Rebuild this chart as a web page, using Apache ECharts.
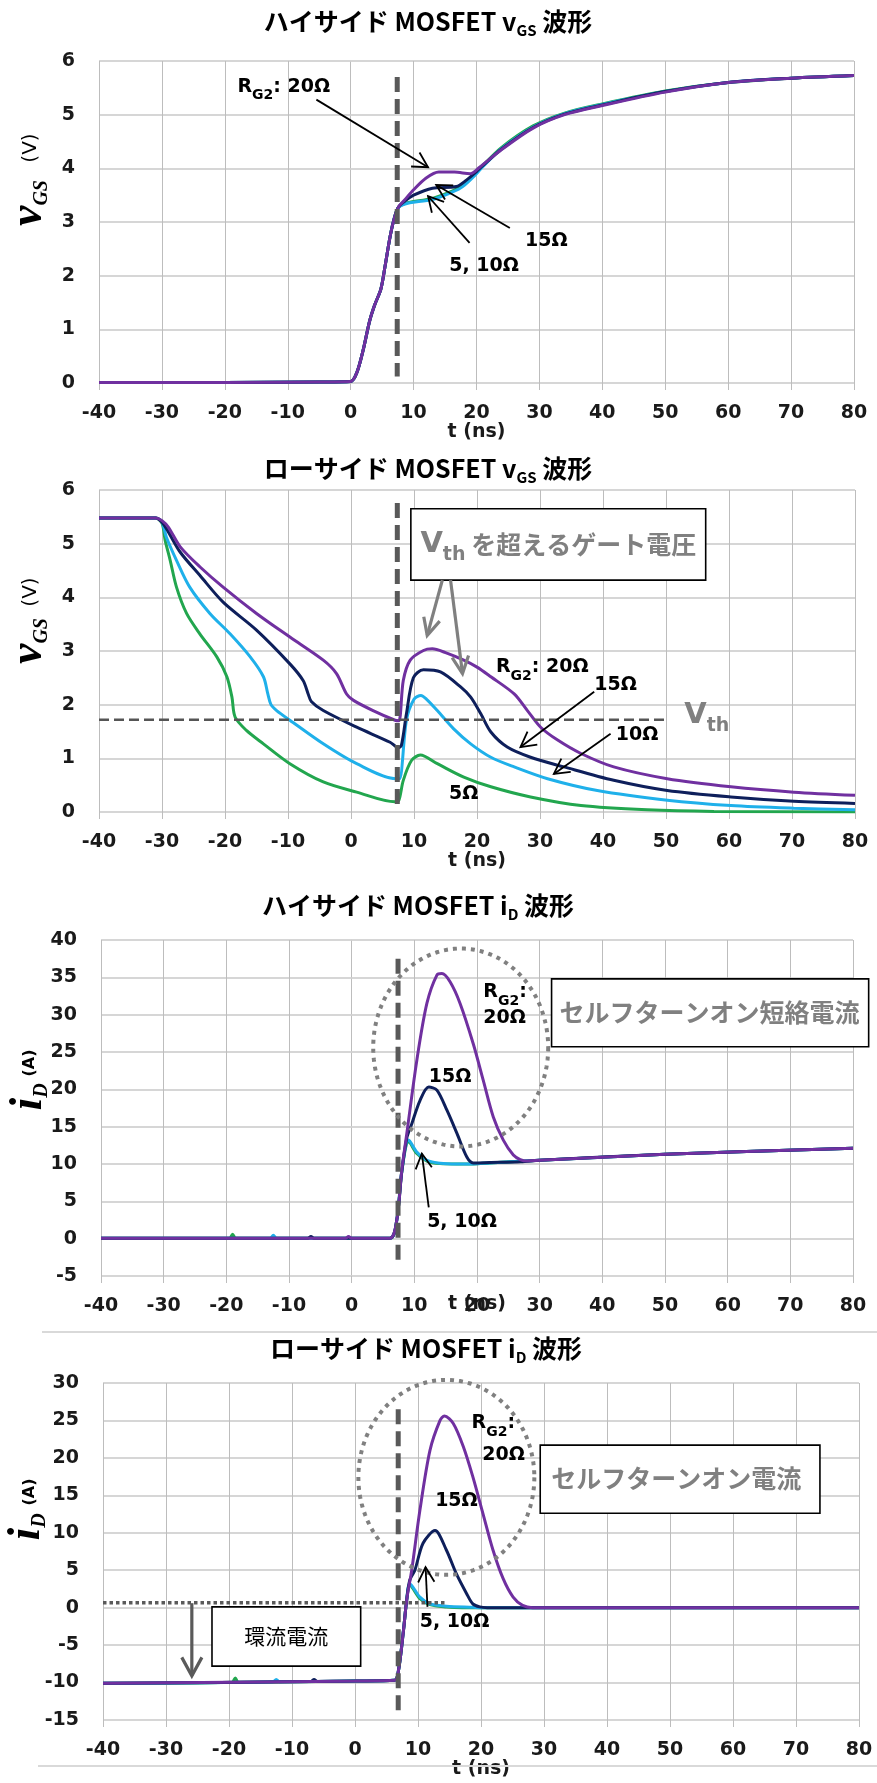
<!DOCTYPE html>
<html>
<head>
<meta charset="utf-8">
<script src="https://cdn.jsdelivr.net/npm/echarts@6/dist/echarts.min.js"></script>
<style>
  html, body { margin: 0; padding: 0; background: #fff; }
  #chart { width: 877px; height: 1783px; }
</style>
</head>
<body>
<div id="chart"></div>
<script>
// ---- axis ticks ----
const timeTicks = [-40, -30, -20, -10, 0, 10, 20, 30, 40, 50, 60, 70, 80];
const vgsTicks = [0, 1, 2, 3, 4, 5, 6];
const hsIdTicks = [-5, 0, 5, 10, 15, 20, 25, 30, 35, 40];
const lsIdTicks = [-15, -10, -5, 0, 5, 10, 15, 20, 25, 30];

// ---- gate resistance cases (drawing order: 5, 10, 15, 20 ohm) ----
const gateResistors = ['5Ω', '10Ω', '15Ω', '20Ω'];
const caseColors = ['#22a64e', '#1fb0ea', '#0e1f5b', '#7030a0'];

// ---- high-side MOSFET vGS (V) vs t (ns) ----
const hsVgs5 = [[-40,0.01],[-20,0.01],[-5,0.02],[0,0.03],[1,0.2],[2,0.62],[3,1.15],[3.8,1.45],[4.8,1.75],[5.5,2.2],[6.3,2.75],[7,3.1],[7.6,3.27],[8.5,3.34],[9.4,3.37],[13,3.44],[16.2,3.58],[17.8,3.68],[20,3.92],[21,4.05],[24,4.39],[29,4.79],[34,5.03],[40,5.2],[50,5.44],[60,5.6],[70,5.68],[80,5.73]];
const hsVgs10 = [[-40,0.01],[-20,0.01],[-5,0.02],[0,0.03],[1,0.2],[2,0.62],[3,1.15],[3.8,1.45],[4.8,1.75],[5.5,2.2],[6.3,2.75],[7,3.1],[7.6,3.27],[8.5,3.33],[9.4,3.36],[13,3.42],[16.2,3.56],[17.8,3.66],[20,3.9],[21,4.03],[24,4.37],[29,4.77],[34,5.02],[40,5.19],[50,5.43],[60,5.6],[70,5.68],[80,5.73]];
const hsVgs15 = [[-40,0.01],[-20,0.01],[-5,0.02],[0,0.03],[1,0.2],[2,0.62],[3,1.15],[3.8,1.45],[4.8,1.75],[5.5,2.2],[6.3,2.75],[7,3.1],[7.6,3.28],[8.5,3.38],[10,3.5],[13,3.63],[16.8,3.66],[18.4,3.78],[20,3.94],[21,4.05],[24,4.36],[29,4.76],[34,5.01],[40,5.18],[50,5.43],[60,5.6],[70,5.68],[80,5.73]];
const hsVgs20 = [[-40,0.01],[-20,0.01],[-5,0.02],[0,0.03],[1,0.2],[2,0.62],[3,1.15],[3.8,1.45],[4.8,1.75],[5.5,2.2],[6.3,2.75],[7,3.1],[7.6,3.28],[8.5,3.4],[10,3.6],[12,3.82],[14,3.93],[16.5,3.93],[19,3.9],[20.5,4.02],[24,4.35],[29,4.75],[34,5.0],[40,5.17],[50,5.42],[60,5.6],[70,5.68],[80,5.73]];

// ---- low-side MOSFET vGS (V) ----
const lsVgs5 = [[-40,5.48],[-31,5.48],[-30,5.38],[-29.5,5.06],[-28.7,4.69],[-27.7,4.19],[-26.1,3.7],[-24,3.32],[-21.3,2.89],[-19.7,2.52],[-18.9,2.14],[-18.4,1.77],[-16.6,1.52],[-13.9,1.27],[-9.7,0.9],[-4.4,0.56],[0.9,0.37],[7,0.19],[7.6,0.22],[8.3,0.59],[9.6,0.96],[11,1.06],[13.7,0.9],[17.9,0.65],[22.2,0.47],[28.5,0.28],[36.5,0.12],[47,0.04],[57.6,0.01],[80,0]];
const lsVgs10 = [[-40,5.48],[-31,5.48],[-30,5.4],[-29.3,5.12],[-27.7,4.69],[-25.6,4.19],[-22.4,3.7],[-19.2,3.32],[-16,2.89],[-13.9,2.52],[-13.2,2.2],[-12.7,2.0],[-11.8,1.89],[-9.7,1.71],[-4.4,1.27],[0.9,0.9],[7.2,0.62],[7.7,0.62],[8.8,1.71],[10,2.1],[11.1,2.17],[12,2.1],[13.7,1.89],[16.3,1.55],[19,1.27],[22.2,1.02],[25.9,0.84],[31.2,0.62],[39.1,0.4],[50.2,0.22],[60.3,0.12],[70.3,0.07],[80,0.04]];
const lsVgs15 = [[-40,5.48],[-31,5.48],[-30,5.4],[-29,5.22],[-27.1,4.84],[-24,4.41],[-20.3,3.91],[-15,3.39],[-9.7,2.76],[-7.6,2.45],[-6.8,2.2],[-6.3,2.06],[-4.4,1.89],[0.9,1.58],[6.2,1.3],[7.5,1.2],[8,1.24],[8.8,1.83],[9.9,2.5],[11.5,2.65],[14.2,2.61],[17.4,2.33],[19,2.14],[20.6,1.83],[22.2,1.49],[24.8,1.21],[28.5,1.02],[33.8,0.84],[41.7,0.59],[50.2,0.4],[60.3,0.28],[70.3,0.2],[80,0.16]];
const lsVgs20 = [[-40,5.48],[-31,5.48],[-30,5.43],[-29,5.31],[-27.1,4.94],[-24,4.57],[-20.3,4.19],[-15,3.7],[-9.7,3.26],[-4.4,2.83],[-2.3,2.58],[-0.7,2.2],[0.4,2.08],[3.5,1.89],[7,1.71],[7.6,1.7],[8.3,2.45],[9.4,2.83],[11.5,3.01],[12.9,3.04],[15,2.97],[17.9,2.83],[20,2.7],[22.2,2.52],[25.9,2.2],[28,1.89],[30.1,1.58],[32.8,1.34],[36.5,1.09],[41.7,0.84],[50.2,0.62],[60.3,0.47],[70.3,0.37],[80,0.31]];
const thresholdVoltage = 1.72;

// ---- high-side MOSFET iD (A) ----
const hsId5 = [[-40,0.05],[-19.5,0.05],[-19,0.6],[-18.5,0.05],[6.1,0.05],[7.2,2.5],[8,9],[9.1,13],[10.4,11.4],[12,10.4],[14.1,10.05],[16.8,10],[19.4,10],[22,10.15],[30,10.5],[50,11.3],[80,12.1]];
const hsId10 = [[-40,0.05],[-13,0.05],[-12.5,0.45],[-12,0.05],[6.1,0.05],[7.2,2.5],[8,9],[9.1,13.2],[10.4,11.6],[12,10.5],[14.1,10.1],[16.8,10],[19.4,10],[22,10.15],[30,10.5],[50,11.3],[80,12.1]];
const hsId15 = [[-40,0.05],[-7,0.05],[-6.5,0.3],[-6,0.05],[6.1,0.05],[7.2,2.5],[8,9],[8.8,13.5],[9.6,15.4],[10.9,18.5],[12.3,20.3],[13.6,19.9],[15.2,17.2],[16.8,14.1],[18.4,10.9],[19.4,10.15],[22,10.2],[27,10.3],[30,10.5],[50,11.3],[80,12.1]];
const hsId20 = [[-40,0.05],[-1,0.05],[-0.5,0.3],[0,0.05],[6.1,0.05],[7.2,2.5],[8,9.2],[8.8,14.1],[10.4,23.9],[12,31.5],[13.6,35.3],[14.4,35.5],[15.7,34.4],[17.3,31.5],[19.4,26.1],[21,21.2],[22.6,16.3],[24.2,13.2],[25.8,11.2],[26.9,10.6],[28,10.4],[30,10.5],[50,11.3],[80,12.1]];

// ---- low-side MOSFET iD (A) ----
const lsId5 = [[-40,-10.1],[-19.5,-9.95],[-19,-9.4],[-18.5,-9.95],[0,-9.8],[6.3,-9.7],[6.9,-8.4],[7.7,-3],[8.2,1],[8.7,3.0],[10.3,1.2],[11.9,0.4],[14.5,0.1],[17,0],[80,0]];
const lsId10 = [[-40,-10.1],[-13,-9.9],[-12.5,-9.6],[-12,-9.9],[0,-9.8],[6.3,-9.7],[6.9,-8.4],[7.7,-3],[8.2,1],[8.7,3.2],[10.3,1.4],[11.9,0.5],[14.5,0.2],[18.7,0.05],[20,0],[80,0]];
const lsId15 = [[-40,-10.1],[-7,-9.85],[-6.5,-9.6],[-6,-9.85],[0,-9.8],[6.3,-9.7],[6.9,-8.4],[7.7,-3],[8.2,1],[8.7,3.7],[9.5,5],[10.8,8.6],[12.7,10.3],[14.5,7.7],[16.1,4.5],[17.7,1.9],[18.7,0.5],[19.8,0.1],[21,0],[80,0]];
const lsId20 = [[-40,-10.1],[-20,-9.95],[0,-9.8],[6.3,-9.7],[6.9,-8.4],[7.7,-3],[8.2,1],[9,5],[10.3,13],[11.9,21],[13.5,25],[14.2,25.6],[15.6,24.6],[17.2,21.5],[18.7,17.5],[20.3,12.6],[21.9,7.7],[23.5,3.9],[25.1,1.4],[26.6,0.3],[28.2,0],[80,0]];
const freewheelRef = 0.67;

// ---- switching instant markers (ns) and their vertical extents ----
const switchTimes = [7.4, 7.35, 7.4, 6.86];
const switchSpans = [[0.12, 5.7], [0.12, 5.76], [-2.9, 37.5], [-13.9, 26.5]];

const panelTitles = [
  ['ハイサイド MOSFET v', 'GS', ' 波形'],
  ['ローサイド MOSFET v', 'GS', ' 波形'],
  ['ハイサイド MOSFET i', 'D', ' 波形'],
  ['ローサイド MOSFET i', 'D', ' 波形']
];

const FONT_NUM = '"DejaVu Sans", Verdana, sans-serif';
const FONT_JP = '"Noto Sans CJK JP", "Noto Sans", sans-serif';
const FONT_SERIF = '"Liberation Serif", "DejaVu Serif", serif';

const panelData = [
  { curves: [hsVgs5, hsVgs10, hsVgs15, hsVgs20], ticks: vgsTicks, nameGap: 40 },
  { curves: [lsVgs5, lsVgs10, lsVgs15, lsVgs20], ticks: vgsTicks, nameGap: 40 },
  { curves: [hsId5, hsId10, hsId15, hsId20], ticks: hsIdTicks, nameGap: 19 },
  { curves: [lsId5, lsId10, lsId15, lsId20], ticks: lsIdTicks, nameGap: 40 }
];

const gridBoxes = [
  { left: 99, top: 61, width: 755, height: 322 },
  { left: 99, top: 490, width: 756, height: 322 },
  { left: 101, top: 940, width: 752, height: 336 },
  { left: 103, top: 1383, width: 756, height: 337 }
];

const chart = echarts.init(document.getElementById('chart'), null, { renderer: 'canvas', width: 877, height: 1783 });

const xAxes = [], yAxes = [], series = [];
panelData.forEach((p, i) => {
  xAxes.push({
    type: 'value', gridIndex: i,
    min: timeTicks[0], max: timeTicks[timeTicks.length - 1], interval: timeTicks[1] - timeTicks[0],
    axisLine: { show: false, onZero: false },
    axisTick: { show: true, length: 7, lineStyle: { color: '#bdbdbd', width: 1 } },
    axisLabel: { margin: 21, fontFamily: FONT_NUM, fontWeight: 'bold', fontSize: 19, color: '#1a1a1a' },
    splitLine: { show: true, lineStyle: { color: '#bdbdbd', width: 1 } },
    name: 't (ns)', nameLocation: 'middle', nameGap: p.nameGap, nameMoveOverlap: false,
    nameTextStyle: { fontFamily: FONT_NUM, fontWeight: 'bold', fontSize: 19, color: '#1a1a1a' }
  });
  yAxes.push({
    type: 'value', gridIndex: i,
    min: p.ticks[0], max: p.ticks[p.ticks.length - 1], interval: p.ticks[1] - p.ticks[0],
    axisLine: { show: false },
    axisTick: { show: true, length: 8, lineStyle: { color: '#d6d6d6', width: 2 } },
    axisLabel: { margin: 24, fontFamily: FONT_NUM, fontWeight: 'bold', fontSize: 19, color: '#1a1a1a' },
    splitLine: { show: true, lineStyle: { color: '#d6d6d6', width: 2 } }
  });
  p.curves.forEach((data, k) => {
    series.push({
      type: 'line', name: gateResistors[k], xAxisIndex: i, yAxisIndex: i, data,
      symbol: 'none', smooth: 0.3, silent: true, z: 2 + k * 0.1,
      lineStyle: { color: caseColors[k], width: 3 }
    });
  });
  // switching instant
  series.push({
    type: 'line', xAxisIndex: i, yAxisIndex: i, symbol: 'none', silent: true, z: 4,
    data: [[switchTimes[i], switchSpans[i][1]], [switchTimes[i], switchSpans[i][0]]],
    lineStyle: { color: '#595959', width: 5, type: [15, 7], cap: 'butt' }
  });
});

// threshold voltage of the low-side device
series.push({
  type: 'line', xAxisIndex: 1, yAxisIndex: 1, symbol: 'none', silent: true, z: 5,
  data: [[-40, thresholdVoltage], [50, thresholdVoltage]],
  lineStyle: { color: '#555555', width: 2.5, type: [10, 5] }
});
// freewheeling reference level of the low-side current
series.push({
  type: 'line', xAxisIndex: 3, yAxisIndex: 3, symbol: 'none', silent: true, z: 5,
  data: [[-40, freewheelRef], [14.5, freewheelRef]],
  lineStyle: { color: '#5a5a5a', width: 3.5, type: [3.5, 3], cap: 'butt' }
});

chart.setOption({
  animation: false,
  backgroundColor: '#ffffff',
  grid: gridBoxes.map(g => Object.assign({ containLabel: false }, g)),
  xAxis: xAxes,
  yAxis: yAxes,
  series
});

// ---- annotations placed through the axis scales ----
const P = (i, x, y) => chart.convertToPixel({ gridIndex: i }, [x, y]);

function arrow(a, b, color, w, head, spread) {
  const ang = Math.atan2(b[1] - a[1], b[0] - a[0]);
  const h1 = [b[0] - head * Math.cos(ang - spread), b[1] - head * Math.sin(ang - spread)];
  const h2 = [b[0] - head * Math.cos(ang + spread), b[1] - head * Math.sin(ang + spread)];
  return [
    { type: 'line', z: 100, shape: { x1: a[0], y1: a[1], x2: b[0], y2: b[1] }, style: { stroke: color, lineWidth: w } },
    { type: 'polyline', z: 100, shape: { points: [h1, b, h2] }, style: { stroke: color, lineWidth: w, fill: null } }
  ];
}
const blackArrow = (a, b) => arrow(a, b, '#000', 1.8, 17, 0.5);
const grayArrow = (a, b) => arrow(a, b, '#808080', 3.2, 19, 0.45);

function dottedEllipse(c, rx, ry) {
  const pts = [];
  for (let k = 0; k <= 160; k++) {
    const a = k / 160 * Math.PI * 2;
    pts.push([c[0] + rx * Math.cos(a), c[1] + ry * Math.sin(a)]);
  }
  return { type: 'polyline', z: 95, shape: { points: pts }, style: { stroke: '#808080', lineWidth: 4, lineDash: [4, 5], fill: null } };
}

function box(p0, p1) {
  return {
    type: 'rect', z: 96,
    shape: { x: Math.min(p0[0], p1[0]), y: Math.min(p0[1], p1[1]), width: Math.abs(p1[0] - p0[0]), height: Math.abs(p1[1] - p0[1]) },
    style: { fill: '#ffffff', stroke: '#000000', lineWidth: 1.6 }
  };
}

const RICH_LABEL = {
  b: { fontFamily: FONT_NUM, fontWeight: 'bold', fontSize: 19, fill: '#000', lineHeight: 32 },
  s: { fontFamily: FONT_NUM, fontWeight: 'bold', fontSize: 14, fill: '#000', lineHeight: 14, verticalAlign: 'bottom' }
};
function label(pos, text, align) {
  return { type: 'text', z: 110, x: pos[0], y: pos[1], style: { text, rich: RICH_LABEL, align: align || 'center', verticalAlign: 'middle' } };
}

const RICH_GRAYBOX = {
  v: { fontFamily: FONT_NUM, fontWeight: 'bold', fontSize: 29, fill: '#808080', lineHeight: 40 },
  s: { fontFamily: FONT_NUM, fontWeight: 'bold', fontSize: 19, fill: '#808080', lineHeight: 19, verticalAlign: 'bottom' },
  j: { fontFamily: FONT_JP, fontWeight: 'bold', fontSize: 25, fill: '#808080', lineHeight: 40 }
};
function grayText(pos, text, align) {
  return { type: 'text', z: 110, x: pos[0], y: pos[1], style: { text, rich: RICH_GRAYBOX, align: align || 'center', verticalAlign: 'middle' } };
}

const RICH_TITLE = {
  t: { fontFamily: FONT_JP, fontWeight: 'bold', fontSize: 25, fill: '#000', lineHeight: 33 },
  s: { fontFamily: FONT_JP, fontWeight: 'bold', fontSize: 15, fill: '#000', lineHeight: 15, verticalAlign: 'bottom' }
};
const RICH_YSYM = {
  v: { fontFamily: FONT_SERIF, fontStyle: 'italic', fontWeight: 'bold', fontSize: 46, fill: '#000', lineHeight: 46 },
  s: { fontFamily: FONT_SERIF, fontStyle: 'italic', fontWeight: 'bold', fontSize: 20, fill: '#000', lineHeight: 20, verticalAlign: 'bottom' }
};

const titleCenters = [[428, 21], [428, 468], [418, 905], [426, 1348]];
// axis quantity symbol and unit, each drawn rotated beside the value axis
const yNames = [
  { sym: '{v|v}{s|GS}', symPos: [29, 203], unit: '(V)', unitPos: [31, 148], unitWeight: 'normal', unitSize: 20 },
  { sym: '{v|v}{s|GS}', symPos: [29, 641], unit: '(V)', unitPos: [31, 592], unitWeight: 'normal', unitSize: 20 },
  { sym: '{v|i}{s|D}', symPos: [29, 1097], unit: '(A)', unitPos: [30, 1063], unitWeight: 'bold', unitSize: 16 },
  { sym: '{v|i}{s|D}', symPos: [27, 1527], unit: '(A)', unitPos: [30, 1492], unitWeight: 'bold', unitSize: 16 }
];

const g = [];

// titles and axis names
panelTitles.forEach((t, i) => {
  g.push({ type: 'text', z: 110, x: titleCenters[i][0], y: titleCenters[i][1],
    style: { text: '{t|' + t[0] + '}{s|' + t[1] + '}{t|' + t[2] + '}', rich: RICH_TITLE, align: 'center', verticalAlign: 'middle' } });
  const yn = yNames[i];
  g.push({ type: 'text', z: 110, x: yn.symPos[0], y: yn.symPos[1], rotation: Math.PI / 2,
    style: { text: yn.sym, rich: RICH_YSYM, align: 'center', verticalAlign: 'middle' } });
  g.push({ type: 'text', z: 110, x: yn.unitPos[0], y: yn.unitPos[1], rotation: Math.PI / 2,
    style: { text: yn.unit, fontFamily: FONT_NUM, fontWeight: yn.unitWeight, fontSize: yn.unitSize, fill: '#000', align: 'center', verticalAlign: 'middle' } });
});

// separators above and below the last panel
g.push({ type: 'line', z: 1, shape: { x1: 42, y1: 1332, x2: 877, y2: 1332 }, style: { stroke: '#d9d9d9', lineWidth: 2 } });
g.push({ type: 'line', z: 1, shape: { x1: 38, y1: 1766, x2: 877, y2: 1766 }, style: { stroke: '#d9d9d9', lineWidth: 2 } });

// panel 1: high-side vGS
g.push(label(P(0, -18, 5.52), '{b|R}{s|G2}{b|: 20Ω}', 'left'));
g.push(...blackArrow(P(0, -5.45, 5.28), P(0, 12.3, 4.02)));
g.push(label(P(0, 31.1, 2.64), '{b|15Ω}'));
g.push(...blackArrow(P(0, 25.3, 2.89), P(0, 13.6, 3.69)));
g.push(label(P(0, 21.2, 2.17), '{b|5, 10Ω}'));
g.push(...blackArrow(P(0, 18.9, 2.61), P(0, 12.3, 3.48)));

// panel 2: low-side vGS
g.push(box(P(1, 9.5, 5.65), P(1, 56.3, 4.32)));
g.push(grayText(P(1, 32.9, 4.98), '{v|V}{s|th}{j| を超えるゲート電圧}'));
g.push(...grayArrow(P(1, 14.5, 4.32), P(1, 12.1, 3.29)));
g.push(...grayArrow(P(1, 15.8, 4.32), P(1, 17.7, 2.58)));
g.push(label(P(1, 23, 2.7), '{b|R}{s|G2}{b|: 20Ω}', 'left'));
g.push(label(P(1, 42, 2.36), '{b|15Ω}'));
g.push(...blackArrow(P(1, 38.6, 2.24), P(1, 26.9, 1.21)));
g.push(label(P(1, 45.4, 1.43), '{b|10Ω}'));
g.push(...blackArrow(P(1, 41.2, 1.46), P(1, 32.2, 0.71)));
g.push(label(P(1, 17.9, 0.34), '{b|5Ω}'));
g.push(grayText(P(1, 52.9, 1.8), '{v|V}{s|th}', 'left'));

// panel 3: high-side iD
g.push(dottedEllipse(P(2, 17.4, 25.6), 87.5, 99));
g.push(box(P(2, 31.9, 34.8), P(2, 82.5, 25.7)));
g.push(grayText(P(2, 57.1, 30.3), '{j|セルフターンオン短絡電流}'));
g.push(label(P(2, 21, 33.0), '{b|R}{s|G2}{b|:}', 'left'));
g.push(label(P(2, 21, 29.5), '{b|20Ω}', 'left'));
g.push(label(P(2, 15.7, 21.7), '{b|15Ω}'));
g.push(label(P(2, 17.6, 2.2), '{b|5, 10Ω}'));
g.push(...blackArrow(P(2, 12.3, 4.2), P(2, 11.2, 11.4)));

// panel 4: low-side iD
g.push(dottedEllipse(P(3, 14.5, 17.4), 88, 97.5));
g.push(box(P(3, 29.4, 21.7), P(3, 73.8, 12.6)));
g.push(grayText(P(3, 51, 17.2), '{j|セルフターンオン電流}'));
g.push(label(P(3, 18.5, 24.6), '{b|R}{s|G2}{b|:}', 'left'));
g.push(label(P(3, 20.2, 20.4), '{b|20Ω}', 'left'));
g.push(label(P(3, 16.1, 14.3), '{b|15Ω}'));
g.push(label(P(3, 15.8, -1.9), '{b|5, 10Ω}'));
g.push(...blackArrow(P(3, 11.5, 0.1), P(3, 11.2, 5.4)));
g.push(box(P(3, -22.7, 0.1), P(3, 0.9, -7.8)));
g.push({ type: 'text', z: 110, x: P(3, -10.9, -3.85)[0], y: P(3, -10.9, -3.85)[1],
  style: { text: '環流電流', fontFamily: FONT_JP, fontSize: 21, fill: '#000', align: 'center', verticalAlign: 'middle' } });
g.push(...arrow(P(3, -25.9, 0.6), P(3, -25.9, -9.1), '#5a5a5a', 3.2, 21, 0.5));

chart.setOption({ graphic: { elements: g } });
</script>
</body>
</html>
